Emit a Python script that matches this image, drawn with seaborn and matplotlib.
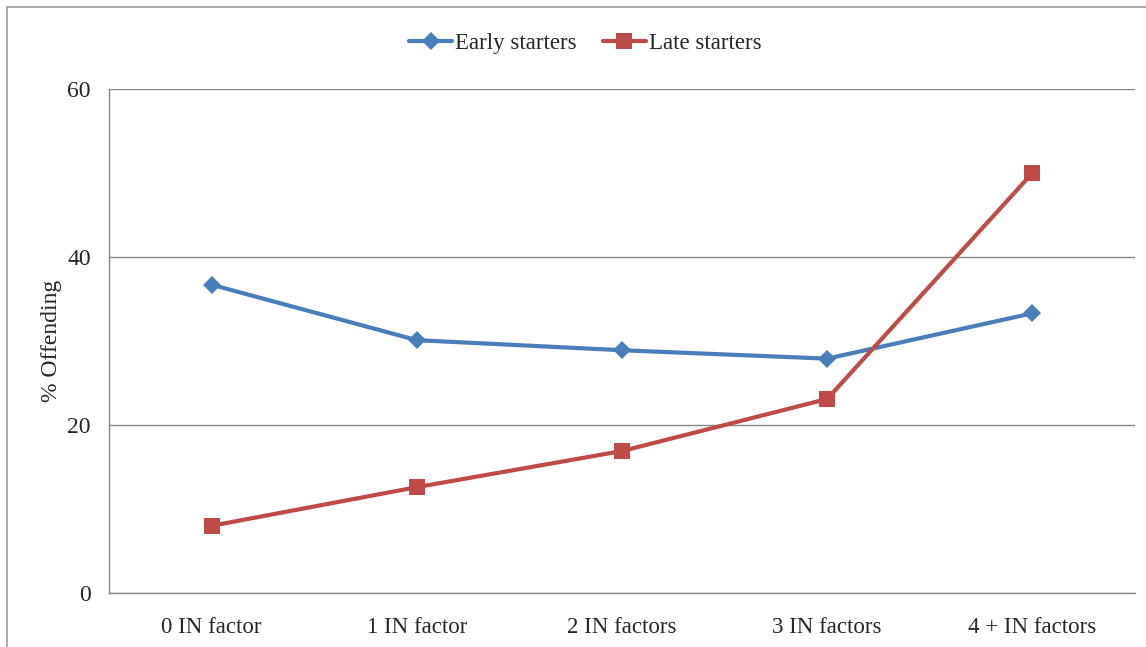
import pandas as pd
import numpy as np
import matplotlib.pyplot as plt
import seaborn as sns
from matplotlib.patches import Rectangle

# data
categories = ['0 IN factor', '1 IN factor', '2 IN factors', '3 IN factors', '4 + IN factors']
early_starters = [36.7, 30.1, 28.9, 27.9, 33.3]
late_starters = [8.0, 12.6, 16.9, 23.1, 50.0]
series_names = ['Early starters', 'Late starters']

df = pd.DataFrame({
    'x': list(range(len(categories))) * 2,
    'value': early_starters + late_starters,
    'series': [series_names[0]] * len(categories) + [series_names[1]] * len(categories),
})

sns.set_style("white")
plt.rcParams['font.family'] = ['Liberation Serif', 'DejaVu Serif']

fig = plt.figure(figsize=(11.46, 6.47), dpi=100)
ax = fig.add_axes([109 / 1146, 54 / 647, 1026 / 1146, 504 / 647])

palette = {'Early starters': '#4a7ebb', 'Late starters': '#be4b48'}
markers = {'Early starters': 'D', 'Late starters': 's'}
sns.lineplot(data=df, x='x', y='value', hue='series', style='series',
             palette=palette, markers=markers, dashes=False,
             linewidth=3, markersize=10, markeredgewidth=0, ax=ax)
# squares look a bit bigger in the original
for line in ax.lines:
    if line.get_marker() == 's':
        line.set_markersize(11)
    elif line.get_marker() == 'D':
        line.set_markersize(9.5)

ax.set_xlim(-0.5, len(categories) - 0.5)
ax.set_ylim(0, 60)
ax.set_yticks([0, 20, 40, 60])
ax.set_xticks(range(len(categories)))
ax.set_xticklabels(categories, fontsize=16.5)
ax.set_xticks(np.arange(-0.5, len(categories)), minor=True)
ax.tick_params(axis='x', which='major', length=0, pad=17)
ax.tick_params(axis='x', which='minor', length=6, width=1, color='#888888', direction='out')
ax.tick_params(axis='y', length=6, width=1, color='#888888', direction='out', labelsize=17, pad=7)
ax.yaxis.grid(True, color='#888888', linewidth=1)
ax.set_axisbelow(True)

for side in ['top', 'right']:
    ax.spines[side].set_visible(False)
for side in ['left', 'bottom']:
    ax.spines[side].set_color('#888888')
    ax.spines[side].set_linewidth(1)

ax.set_xlabel('')
ax.set_ylabel('% Offending', fontsize=17, labelpad=4)

leg = ax.legend(loc='center', bbox_to_anchor=(585 / 1146, 604 / 647),
                bbox_transform=fig.transFigure, ncol=2, frameon=False,
                fontsize=16.5, handlelength=1.9, columnspacing=1.15, handletextpad=0.1)

# thin border around the chart area (left and top edges visible)
fig.patches.append(Rectangle((7 / 1146, -0.05), 1.0, (640 / 647) + 0.05,
                             transform=fig.transFigure, fill=False,
                             edgecolor='#999999', linewidth=1.2))

plt.savefig('out.png', dpi=100)
plt.close()
